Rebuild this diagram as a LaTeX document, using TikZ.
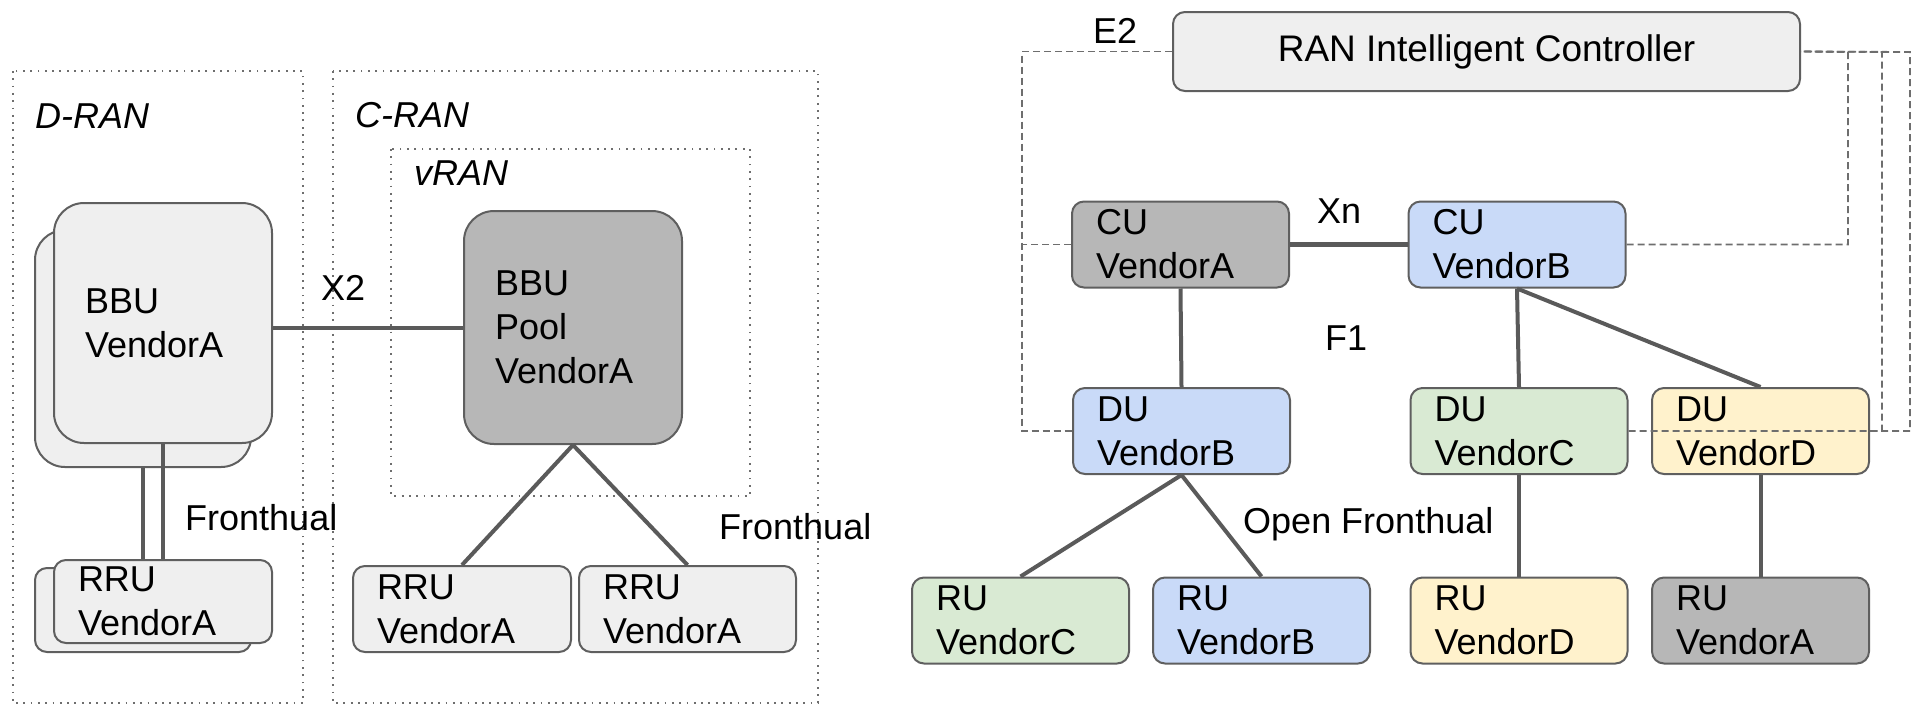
\documentclass[tikz,border=0pt]{standalone}
\usepackage{fontspec}
\setmainfont{Liberation Sans}
\usepackage{tikz}
\usetikzlibrary{positioning}
\definecolor{boxgray}{HTML}{EFEFEF}
\definecolor{vendorgray}{HTML}{B7B7B7}
\definecolor{vendorblue}{HTML}{C9DAF8}
\definecolor{vendorgreen}{HTML}{D9EAD3}
\definecolor{vendoryellow}{HTML}{FFF2CC}
\definecolor{edgegray}{HTML}{5F5F5F}
\definecolor{linkgray}{HTML}{5A5A5A}
\definecolor{framegray}{HTML}{6E6E6E}

\tikzset{
  box/.style={draw=edgegray, line width=2pt, rounded corners=12pt, inner ysep=4pt},
  unit/.style={box, align=left, text width=169pt, inner xsep=24pt, minimum height=86pt},
  bigunit/.style={box, align=left, rounded corners=30pt, text width=156pt, inner xsep=31pt},
  link/.style={draw=linkgray, line width=4pt},
  e2link/.style={draw=framegray, line width=1.8pt, dash pattern=on 7pt off 4pt},
  region/.style={draw=framegray, line width=1.8pt, dash pattern=on 1.8pt off 5.5pt},
  lbl/.style={anchor=base west, inner sep=0pt},
}

\begin{document}
\begin{tikzpicture}[x=1pt, y=-1pt, font=\fontsize{36}{44}\selectfont]
  \useasboundingbox (0,0) rectangle (1916,716);

  % D-RAN / C-RAN / vRAN regions
  \draw[region] (13,71) rectangle (303,703);
  \draw[region] (333,71) rectangle (818,703);
  \draw[region] (391,149) rectangle (750,496);
  \node[lbl, font=\fontsize{36}{44}\selectfont\itshape] (dranlbl) at (35,128) {D-RAN};
  \node[lbl, font=\fontsize{36}{44}\selectfont\itshape] (cranlbl) at (355,127) {C-RAN};
  \node[lbl, font=\fontsize{36}{44}\selectfont\itshape] (vranlbl) at (414,185) {vRAN};

  % stacked BBU and RRU
  \node[bigunit, fill=boxgray, minimum height=237pt, text width=154pt] (bbuback) at (143,348.5) {};
  \node[unit, fill=boxgray, minimum height=84pt, text width=168pt] (rruback) at (143,610) {};
  \draw[link] (bbuback.south) -- (rruback.north);
  \node[bigunit, fill=boxgray, minimum height=240pt] (bbu) at (163,323) {BBU\\VendorA};
  \node[unit, fill=boxgray, minimum height=83pt, text width=170pt] (rru) at (163,601.5) {RRU\\VendorA};
  \draw[link] (bbu.south) -- (rru.north);
  \node[lbl] (fhleft) at (185,530) {Fronthual};

  % BBU pool
  \node[bigunit, fill=vendorgray, minimum height=233pt] (pool) at (573,327.5) {BBU\\Pool\\VendorA};
  \node[unit, fill=boxgray, text width=170pt] (rrua) at (462,609) {RRU\\VendorA};
  \node[unit, fill=boxgray, text width=169pt] (rrub) at (687.5,609) {RRU\\VendorA};
  \draw[link] (bbu.east |- pool.west) -- (pool.west);
  \draw[link] (pool.south) -- (rrua.north);
  \draw[link] (pool.south) -- (rrub.north);
  \node[lbl] (x2lbl) at (321,300) {X2};
  \node[lbl] (fhright) at (719,539) {Fronthual};

  % RIC
  \node[box, fill=boxgray, minimum width=627pt, minimum height=79pt, font=\fontsize{37}{44}\selectfont] (ric) at (1486.5,51.5) {RAN Intelligent Controller};
  \node[lbl] (e2lbl) at (1093,43) {E2};

  % CU / DU / RU
  \node[unit, fill=vendorgray] (cua) at (1180.5,244.5) {CU\\VendorA};
  \node[unit, fill=vendorblue] (cub) at (1517,244.5) {CU\\VendorB};
  \node[unit, fill=vendorblue] (dub) at (1181.5,431) {DU\\VendorB};
  \node[unit, fill=vendorgreen] (duc) at (1519,431) {DU\\VendorC};
  \node[unit, fill=vendoryellow] (dud) at (1760.5,431) {DU\\VendorD};
  \node[unit, fill=vendorgreen] (ruc) at (1020.5,620.5) {RU\\VendorC};
  \node[unit, fill=vendorblue] (rub) at (1261.5,620.5) {RU\\VendorB};
  \node[unit, fill=vendoryellow] (rud) at (1519,620.5) {RU\\VendorD};
  \node[unit, fill=vendorgray] (rua) at (1760.5,620.5) {RU\\VendorA};

  \draw[link, line width=4.5pt] (cua.east) -- (cub.west);
  \draw[link] (cua.south) -- (dub.north);
  \draw[link] (cub.south) -- (duc.north);
  \draw[link] (cub.south) -- (dud.north);
  \draw[link] (dub.south) -- (ruc.north);
  \draw[link] (dub.south) -- (rub.north);
  \draw[link] (duc.south) -- (rud.north);
  \draw[link] (dud.south) -- (rua.north);
  \node[lbl] (xnlbl) at (1317,223) {Xn};
  \node[lbl] (f1lbl) at (1325,350) {F1};
  \node[lbl] (ofhlbl) at (1243,533) {Open Fronthual};

  % E2 links
  \coordinate (e2w) at (1022,431);
  \coordinate (e2a) at (1848,52);
  \coordinate (e2b) at (1882,52);
  \coordinate (e2c) at (1910,52);
  \draw[e2link] (ric.west) -| (e2w) -- (dub.west);
  \draw[e2link] (cua.west) -- (cua.west -| e2w);
  \draw[e2link] (cub.east) -| (e2a) -- (ric.east);
  \draw[e2link] (duc.east) -| (e2b) -- (ric.east);
  \draw[e2link] (dud.east) -| (e2c) -- (ric.east);
\end{tikzpicture}
\end{document}
